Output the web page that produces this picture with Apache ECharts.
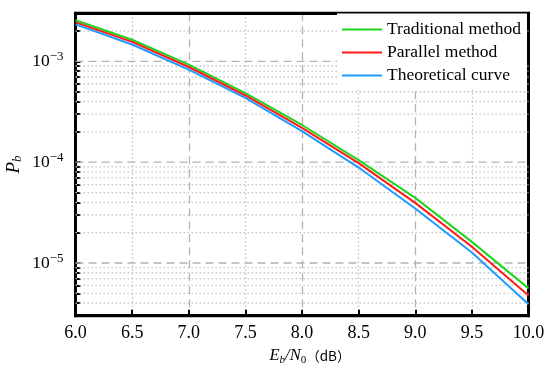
<!DOCTYPE html>
<html>
<head>
<meta charset="utf-8">
<script src="https://cdn.jsdelivr.net/npm/echarts@6/dist/echarts.min.js"></script>
<style>
html,body{margin:0;padding:0;background:#fff;}
#chart{width:550px;height:383px;}
</style>
</head>
<body>
<div id="chart"></div>
<script>
// ---- data ----
const ebn0 = [6.0, 6.5, 7.0, 7.5, 8.0, 8.5, 9.0, 9.5, 10.0];
const traditional = [2.56e-3, 1.64e-3, 9.3e-4, 4.84e-4, 2.34e-4, 1.05e-4, 4.43e-5, 1.62e-5, 5.6e-6];
const parallel    = [2.44e-3, 1.56e-3, 8.8e-4, 4.59e-4, 2.19e-4, 9.8e-5, 3.95e-5, 1.45e-5, 4.76e-6];
const theoretical = [2.33e-3, 1.47e-3, 8.3e-4, 4.35e-4, 2.03e-4, 8.85e-5, 3.47e-5, 1.27e-5, 3.9e-6];
const seriesNames = ['Traditional method', 'Parallel method', 'Theoretical curve'];
const xRange = [6, 10];
const yMajorTicks = [1e-5, 1e-4, 1e-3];
const yMinorTicks = [4e-6, 5e-6, 6e-6, 7e-6, 8e-6, 9e-6,
  2e-5, 3e-5, 4e-5, 5e-5, 6e-5, 7e-5, 8e-5, 9e-5,
  2e-4, 3e-4, 4e-4, 5e-4, 6e-4, 7e-4, 8e-4, 9e-4,
  2e-3];
const yExponents = {'1e-5': '−5', '1e-4': '−4', '1e-3': '−3'};

const pair = (ys) => ebn0.map((x, i) => [x, ys[i]]);

const SERIF = '"Liberation Serif", "Times New Roman", serif';
const dashed = {color: '#b3b3b3', width: 1.3, type: [8, 5]};
const dotted = {color: '#c2c2c2', width: 1.3, type: [1.5, 2.5]};

const colors = ['#1fd41f', '#ff1a1a', '#1e9bff'];

// horizontal grid lines as plain line series through the library's scales
const gridSeries = [];
yMajorTicks.forEach(v => gridSeries.push({v, style: dashed}));
yMinorTicks.forEach(v => gridSeries.push({v, style: dotted}));
const hGrid = gridSeries.map((g, i) => ({
  name: '_grid' + i, type: 'line', silent: true, symbol: 'none', z: 1,
  data: [[xRange[0], g.v], [xRange[1], g.v]],
  lineStyle: g.style, itemStyle: {opacity: 0}, tooltip: {show: false}
}));

const chart = echarts.init(document.getElementById('chart'), null, {renderer: 'canvas'});
chart.setOption({
  animation: false,
  backgroundColor: '#fff',
  grid: {left: 75.5, right: 21.5, top: 13.3, bottom: 67.3, show: true, borderColor: '#000', borderWidth: 3,
         containLabel: false, outerBoundsMode: 'none'},
  legend: {
    data: seriesNames.map((n, i) => ({name: n, icon: 'rect', itemStyle: {color: colors[i]}})),
    orient: 'vertical',
    left: 337, top: 13.5,
    padding: [7, 6, 5, 5],
    backgroundColor: '#fff',
    itemWidth: 40, itemHeight: 2, itemGap: 5,
    textStyle: {fontFamily: SERIF, fontSize: 17.5, color: '#000', lineHeight: 18}
  },
  xAxis: [{
    type: 'value', min: xRange[0], max: xRange[1], interval: 0.5,
    axisLine: {show: true, lineStyle: {color: '#000', width: 3}},
    axisTick: {show: true, inside: true, length: 6, lineStyle: {color: '#000', width: 2}},
    axisLabel: {fontFamily: SERIF, fontSize: 18, color: '#000', margin: 9, formatter: v => v.toFixed(1)},
    splitLine: {show: false},
    name: '{i|E}{isub|b}{i|/N}{sub|0}{c|（dB）}',
    nameLocation: 'middle', nameGap: 30, nameMoveOverlap: false,
    nameTextStyle: {
      padding: [0, 0, 0, 16],
      rich: {
        i: {fontFamily: SERIF, fontStyle: 'italic', fontSize: 16.5, color: '#000'},
        isub: {fontFamily: SERIF, fontStyle: 'italic', fontSize: 11, color: '#000', padding: [9, 0, 0, 0]},
        sub: {fontFamily: SERIF, fontSize: 11, color: '#000', padding: [9, 0, 0, 0]},
        c: {fontFamily: '"Noto Sans CJK SC", sans-serif', fontSize: 13.5, color: '#000'}
      }
    }
  }, {
    type: 'value', min: xRange[0], max: xRange[1], interval: 1, position: 'top',
    axisLine: {show: true, lineStyle: {color: '#000', width: 3}},
    axisTick: {show: false}, axisLabel: {show: false},
    minorTick: {show: false, splitNumber: 2},
    splitLine: {show: true, lineStyle: dashed},
    minorSplitLine: {show: true, lineStyle: dotted}
  }],
  yAxis: [{
    type: 'log', min: 3e-6, max: 3e-3, logBase: 10,
    axisLine: {show: true, lineStyle: {color: '#000', width: 3}},
    axisTick: {show: true, inside: true, length: 5, lineStyle: {color: '#000', width: 2},
      customValues: yMajorTicks.concat(yMinorTicks)},
    axisLabel: {
      customValues: yMajorTicks,
      margin: 12,
      formatter: v => {
        const k = Number(v).toExponential(0).replace('+', '');
        const e = yExponents[k];
        return e ? '{b|10}{s|' + e + '}' : '';
      },
      rich: {
        b: {fontFamily: SERIF, fontSize: 17.5, color: '#000'},
        s: {fontFamily: SERIF, fontSize: 13, color: '#000', padding: [0, 0, 9, 0]}
      }
    },
    splitLine: {show: false},
    name: '{i|P}{s|b}',
    nameLocation: 'middle', nameGap: 51, nameRotate: 90, nameMoveOverlap: false,
    nameTextStyle: {
      rich: {
        i: {fontFamily: SERIF, fontStyle: 'italic', fontSize: 19, color: '#000'},
        s: {fontFamily: SERIF, fontStyle: 'italic', fontSize: 13, color: '#000', padding: [9, 0, 0, 0]}
      }
    }
  }, {
    type: 'log', min: 3e-6, max: 3e-3, logBase: 10, position: 'right',
    axisLine: {show: true, lineStyle: {color: '#000', width: 3}},
    axisTick: {show: false}, axisLabel: {show: false}, splitLine: {show: false}
  }],
  series: hGrid.concat([{
    name: seriesNames[0], type: 'line', data: pair(traditional), symbol: 'none', z: 3,
    lineStyle: {color: colors[0], width: 2}, itemStyle: {color: colors[0]}
  }, {
    name: seriesNames[1], type: 'line', data: pair(parallel), symbol: 'none', z: 3,
    lineStyle: {color: colors[1], width: 2}, itemStyle: {color: colors[1]}
  }, {
    name: seriesNames[2], type: 'line', data: pair(theoretical), symbol: 'none', z: 3,
    lineStyle: {color: colors[2], width: 2}, itemStyle: {color: colors[2]}
  }])
});
</script>
</body>
</html>
